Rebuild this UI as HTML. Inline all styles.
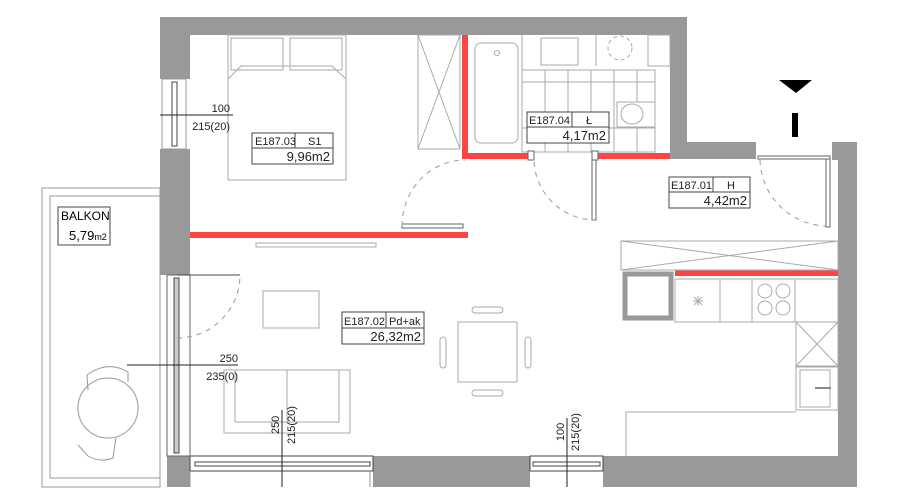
<!DOCTYPE html>
<html><head><meta charset="utf-8"><style>
html,body{margin:0;padding:0;background:#fff;}
svg{display:block;font-family:"Liberation Sans",sans-serif;}
</style></head><body>
<svg width="900" height="504" viewBox="0 0 900 504" xmlns="http://www.w3.org/2000/svg">
<g fill="#999">
<rect x="160" y="17" width="527" height="18"/>
<rect x="670" y="17" width="17" height="142"/>
<rect x="670" y="142" width="86" height="17"/>
<rect x="832" y="142" width="25" height="18"/>
<rect x="838" y="142" width="19" height="345"/>
<rect x="160" y="17" width="30" height="62"/>
<rect x="160" y="149" width="30" height="126"/>
<rect x="167" y="456" width="23" height="31"/>
<rect x="373" y="456" width="157" height="31"/>
<rect x="603" y="456" width="254" height="31"/>
</g>
<!-- windows -->
<g fill="#fff" stroke="#444" stroke-width="1">
<rect x="162" y="79" width="24" height="70" stroke="#999"/>
<rect x="172" y="82" width="5" height="64"/>
<rect x="190" y="456" width="183" height="15"/>
<rect x="195" y="462" width="175" height="4"/>
<rect x="530" y="456" width="73" height="15"/>
<rect x="533" y="462" width="67" height="4"/>
<rect x="167" y="275" width="23" height="181" stroke="#666"/>
<rect x="174" y="278" width="5" height="175" fill="#ccc"/>
</g>
<line x1="190" y1="471" x2="190" y2="487" stroke="#999"/>
<line x1="370" y1="471" x2="370" y2="487" stroke="#999"/>
<!-- balcony -->
<g fill="none" stroke="#999">
<rect x="42" y="188" width="118" height="299"/>
<rect x="50" y="196" width="110" height="282"/>
<rect x="58" y="207" width="52" height="38" stroke="#444"/>
<circle cx="108" cy="408" r="30"/>
<path d="M87 375 Q108 360 128 372 L128 382 M87 375 L88 390"/>
<path d="M78 445 L88 456 Q100 463 113 458 L116 437"/>
</g>
<text x="61" y="220" font-size="12">BALKON</text>
<text x="69" y="240" font-size="13">5,79<tspan font-size="9">m2</tspan></text>
<!-- red walls -->
<g fill="#f44">
<rect x="462" y="35" width="6" height="124"/>
<rect x="462" y="153" width="68" height="6"/>
<rect x="596" y="153" width="74" height="6"/>
<rect x="190" y="232" width="278" height="6"/>
<rect x="675" y="270" width="163" height="6"/>
</g>
<!-- bedroom furniture -->
<g fill="none" stroke="#aaa">
<rect x="228" y="35" width="118" height="145"/>
<rect x="231" y="38" width="52" height="32"/>
<rect x="290" y="38" width="52" height="32"/>
<path d="M228 79 L241 66 L332 66 L346 79"/>
<rect x="418" y="35" width="42" height="114"/>
<path d="M418 35 L460 149 M460 35 L418 149"/>
<rect x="256" y="243" width="120" height="4"/>
<rect x="402" y="224" width="61" height="4" stroke="#666"/>
</g>
<path d="M402 226 A63 66 0 0 1 465 160" fill="none" stroke="#999" stroke-dasharray="5,5"/>
<!-- bathroom -->
<g fill="none" stroke="#aaa">
<rect x="475" y="43" width="43" height="100" rx="6"/>
<circle cx="497" cy="53" r="2.5"/>
<line x1="522" y1="35" x2="522" y2="152"/>
<rect x="541" y="38" width="37" height="27"/>
<rect x="522" y="70" width="133" height="82"/>
<path d="M522 82 H655 M522 128 H655 M545 70 V152 M568 70 V152 M591 70 V152 M614 70 V152 M637 70 V152"/>
<rect x="617" y="102" width="38" height="25" fill="#fff"/>
<ellipse cx="632" cy="114" rx="11" ry="10"/>
<circle cx="620" cy="48" r="12" stroke-dasharray="4,3"/>
<rect x="648" y="35" width="22" height="31"/>
<line x1="596" y1="35" x2="596" y2="66"/>
</g>
<g fill="#fff" stroke="#444">
<rect x="527" y="112" width="82" height="31"/>
<line x1="527" y1="127" x2="609" y2="127"/><line x1="572" y1="112" x2="572" y2="127"/>
<rect x="252" y="133" width="81" height="31"/>
<line x1="252" y1="148" x2="333" y2="148"/><line x1="295" y1="133" x2="295" y2="148"/>
<rect x="669" y="177" width="81" height="31"/>
<line x1="669" y1="192" x2="750" y2="192"/><line x1="713" y1="177" x2="713" y2="192"/>
<rect x="342" y="312" width="82" height="32"/>
<line x1="342" y1="328" x2="424" y2="328"/><line x1="386" y1="312" x2="386" y2="328"/>
</g>
<g font-size="11" fill="#222">
<text x="255" y="145">E187.03</text><text x="308" y="145">S1</text>
<text x="330" y="161" text-anchor="end" font-size="13">9,96m2</text>
<text x="529" y="124">E187.04</text><text x="586" y="124">Ł</text>
<text x="606" y="140" text-anchor="end" font-size="13">4,17m2</text>
<text x="671" y="189">E187.01</text><text x="727" y="189">H</text>
<text x="747" y="205" text-anchor="end" font-size="13">4,42m2</text>
<text x="344" y="325">E187.02</text><text x="389" y="325">Pd+ak</text>
<text x="421" y="341" text-anchor="end" font-size="13">26,32m2</text>
</g>
<!-- doors -->
<g fill="#fff" stroke="#666">
<rect x="592" y="158" width="4" height="62"/>
<rect x="826" y="158" width="4" height="69"/>
<rect x="758" y="156" width="72" height="3"/>
<rect x="528" y="151" width="6" height="9"/><rect x="592" y="151" width="6" height="9"/>
</g>
<g fill="none" stroke="#999" stroke-dasharray="5,5">
<path d="M534 162 A62 62 0 0 0 594 220"/>
<path d="M760 160 A68 68 0 0 0 826 226"/>
<path d="M177 338 A63 63 0 0 0 240 275"/>
</g>
<line x1="177" y1="275" x2="240" y2="275" stroke="#444"/>
<!-- arrow -->
<path d="M779 80 L812 80 L796 93 Z" fill="#000"/>
<rect x="792" y="113" width="6" height="24" fill="#000"/>
<!-- kitchen -->
<g fill="none" stroke="#aaa">
<rect x="621" y="241" width="217" height="29"/>
<path d="M621 241 L838 270 M838 241 L621 270"/>
<rect x="625" y="274" width="46" height="44" stroke="#999" stroke-width="5"/>
<rect x="675" y="279" width="163" height="43"/>
<path d="M720 279 V322 M752 279 V322 M795 279 V322"/>
<circle cx="765" cy="291" r="7"/><circle cx="783" cy="291" r="7"/>
<circle cx="765" cy="308" r="7"/><circle cx="783" cy="308" r="7"/>
<path d="M698 296 v10 M693 301 h10 M694 297 l8 8 M702 297 l-8 8"/>
<rect x="796" y="322" width="42" height="44"/>
<path d="M796 322 L838 366 M838 322 L796 366"/>
<rect x="796" y="367" width="42" height="43"/>
<rect x="800" y="370" width="30" height="37"/>
<path d="M626 457 V412 H796"/>
</g>
<line x1="815" y1="388" x2="831" y2="388" stroke="#888" stroke-width="2"/>
<!-- living -->
<g fill="none" stroke="#aaa">
<rect x="263" y="291" width="56" height="37"/>
<rect x="224" y="370" width="126" height="63"/>
<rect x="235" y="370" width="104" height="52"/>
<line x1="287" y1="370" x2="287" y2="422"/>
<rect x="458" y="322" width="59" height="60"/>
<rect x="472" y="307" width="31" height="6" rx="3"/>
<rect x="472" y="390" width="31" height="6" rx="3"/>
<rect x="440" y="337" width="6" height="31" rx="3"/>
<rect x="525" y="337" width="6" height="31" rx="3"/>
</g>
<!-- dimensions -->
<g stroke="#222" stroke-width="1">
<line x1="160" y1="115" x2="233" y2="115"/>
<line x1="127" y1="365" x2="238" y2="365"/>
<line x1="282" y1="410" x2="282" y2="487"/>
<line x1="567" y1="418" x2="567" y2="487"/>
</g>
<g font-size="11" fill="#222">
<text x="230" y="112" text-anchor="end">100</text>
<text x="230" y="130" text-anchor="end">215(20)</text>
<text x="238" y="362" text-anchor="end">250</text>
<text x="238" y="380" text-anchor="end">235(0)</text>
<text transform="translate(279,425) rotate(-90)" text-anchor="middle">250</text>
<text transform="translate(295,425) rotate(-90)" text-anchor="middle">215(20)</text>
<text transform="translate(564,432) rotate(-90)" text-anchor="middle">100</text>
<text transform="translate(579,432) rotate(-90)" text-anchor="middle">215(20)</text>
</g>
</svg>
</body></html>
